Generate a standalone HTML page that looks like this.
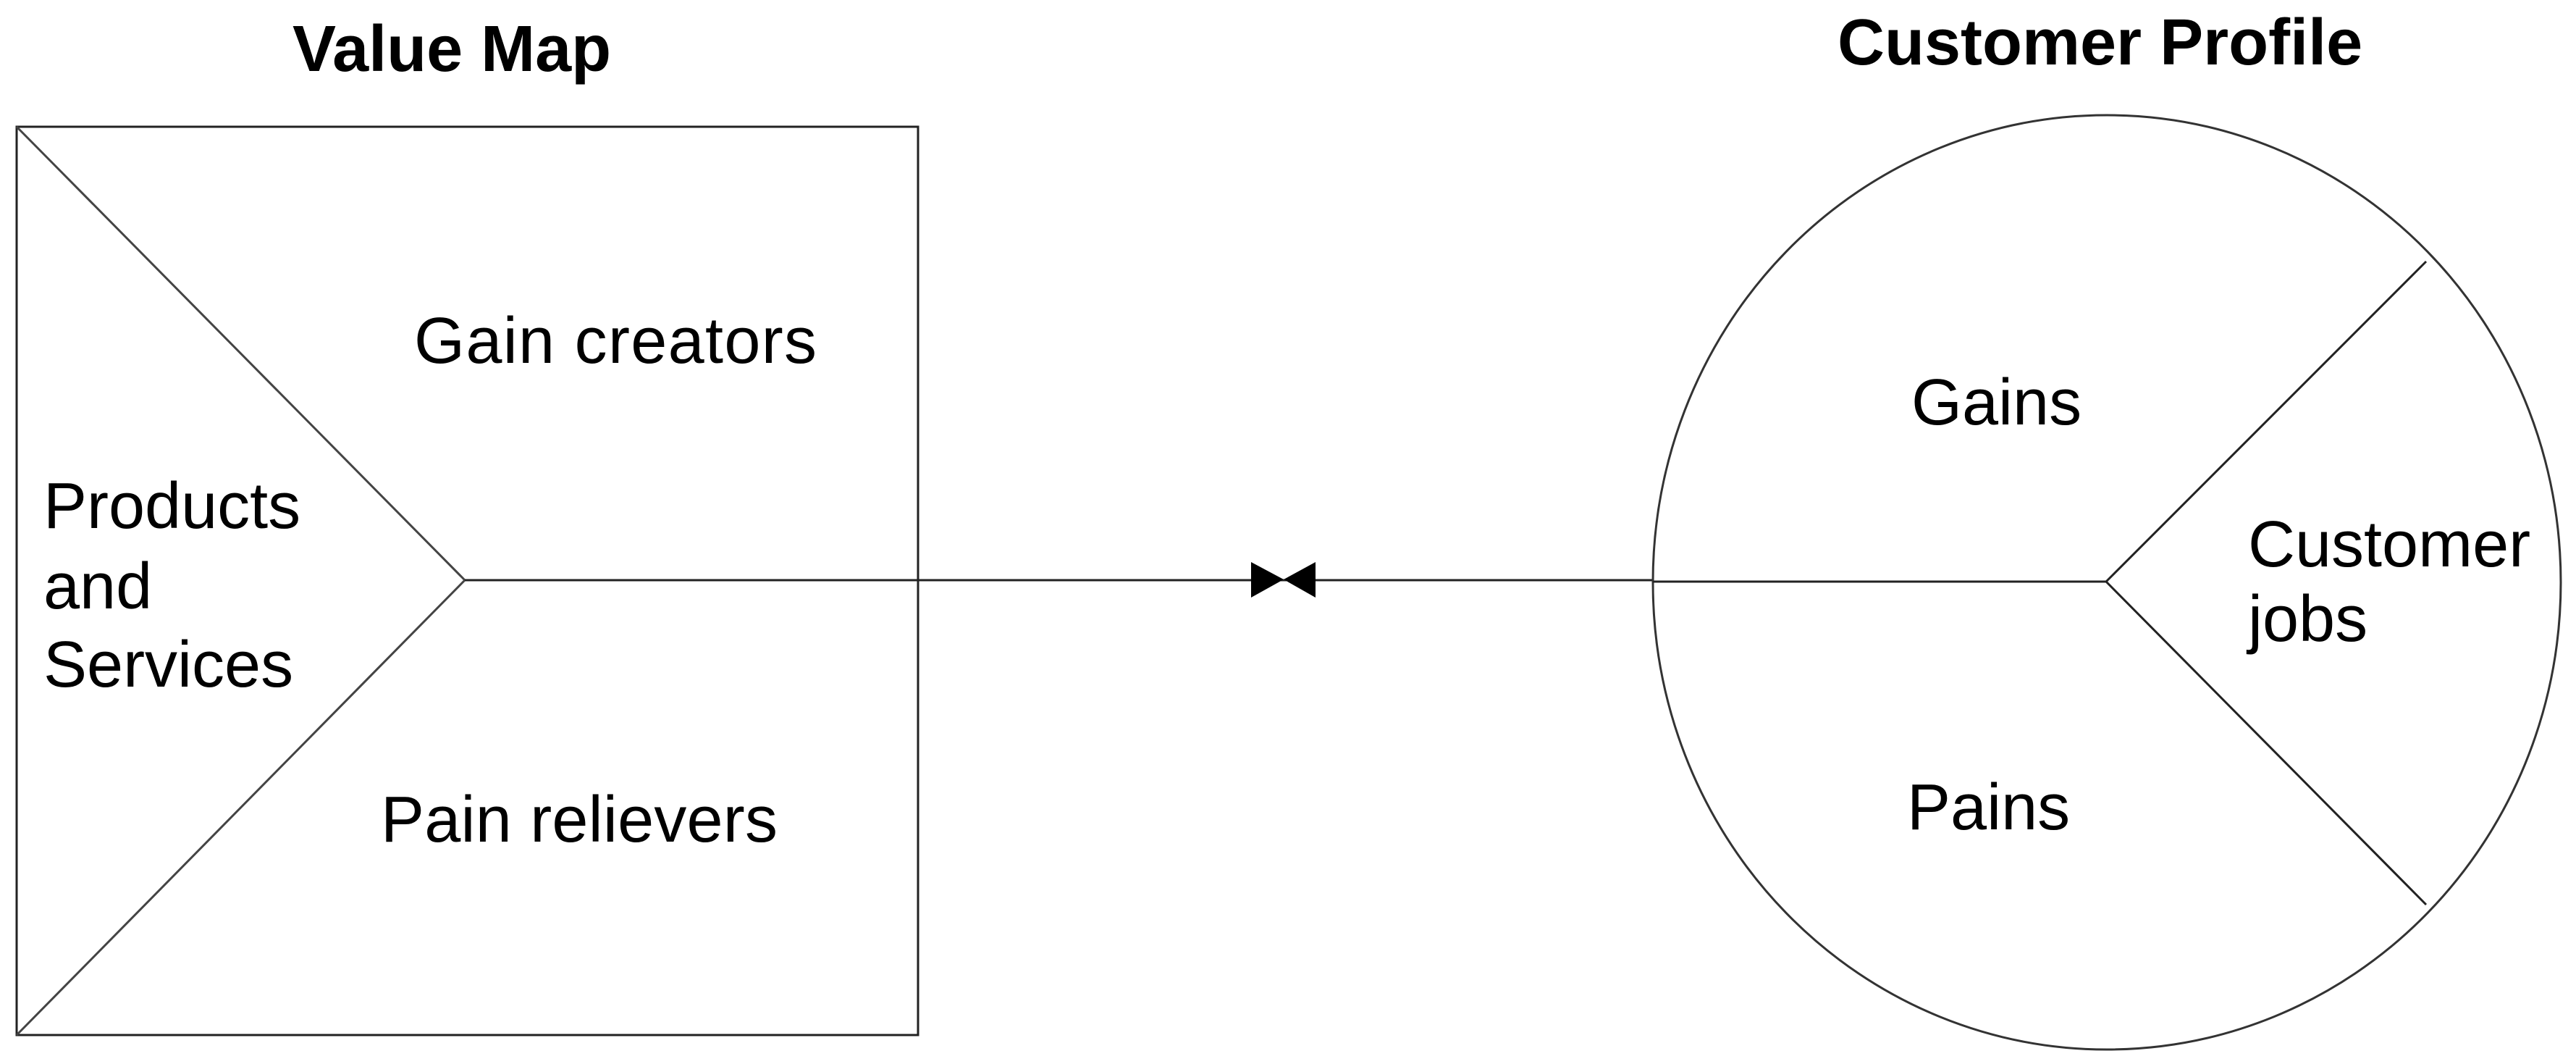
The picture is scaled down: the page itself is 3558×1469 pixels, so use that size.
<!DOCTYPE html>
<html><head><meta charset="utf-8"><style>
html,body{margin:0;padding:0;background:#fff;}
svg{display:block;}
text{font-family:"Liberation Sans",Arial,sans-serif;fill:#000;}
</style></head><body>
<svg width="3558" height="1469" viewBox="0 0 3558 1469" xmlns="http://www.w3.org/2000/svg">
<text x="404" y="98" font-size="90" font-weight="bold">Value Map</text>
<text x="2538" y="89" font-size="90" font-weight="bold">Customer Profile</text>
<rect x="23" y="175" width="1245" height="1254" fill="none" stroke="#222" stroke-width="3"/>
<line x1="23" y1="175" x2="642" y2="801" stroke="#444" stroke-width="3"/>
<line x1="23" y1="1429" x2="642" y2="801" stroke="#444" stroke-width="3"/>
<line x1="642" y1="801" x2="2283" y2="801" stroke="#222" stroke-width="3"/>
<ellipse cx="2910" cy="804" rx="627" ry="645" fill="none" stroke="#333" stroke-width="3"/>
<line x1="2283" y1="803" x2="2909" y2="803" stroke="#222" stroke-width="3"/>
<line x1="2909" y1="803" x2="3351" y2="361" stroke="#222" stroke-width="3"/>
<line x1="2909" y1="803" x2="3351" y2="1249" stroke="#222" stroke-width="3"/>
<polygon points="1728,776 1773,800 1728,825" fill="#000"/>
<polygon points="1817,776 1773,800 1817,825" fill="#000"/>
<text x="572" y="501" font-size="90" textLength="556" lengthAdjust="spacing">Gain creators</text>
<text x="60" y="729" font-size="90">Products</text>
<text x="60" y="840" font-size="90">and</text>
<text x="60" y="948" font-size="90">Services</text>
<text x="526" y="1162" font-size="90" textLength="548" lengthAdjust="spacing">Pain relievers</text>
<text x="2640" y="586" font-size="90">Gains</text>
<text x="3105" y="782" font-size="90">Customer</text>
<text x="3105" y="885" font-size="90">jobs</text>
<text x="2634" y="1145" font-size="90">Pains</text>
</svg>
</body></html>
